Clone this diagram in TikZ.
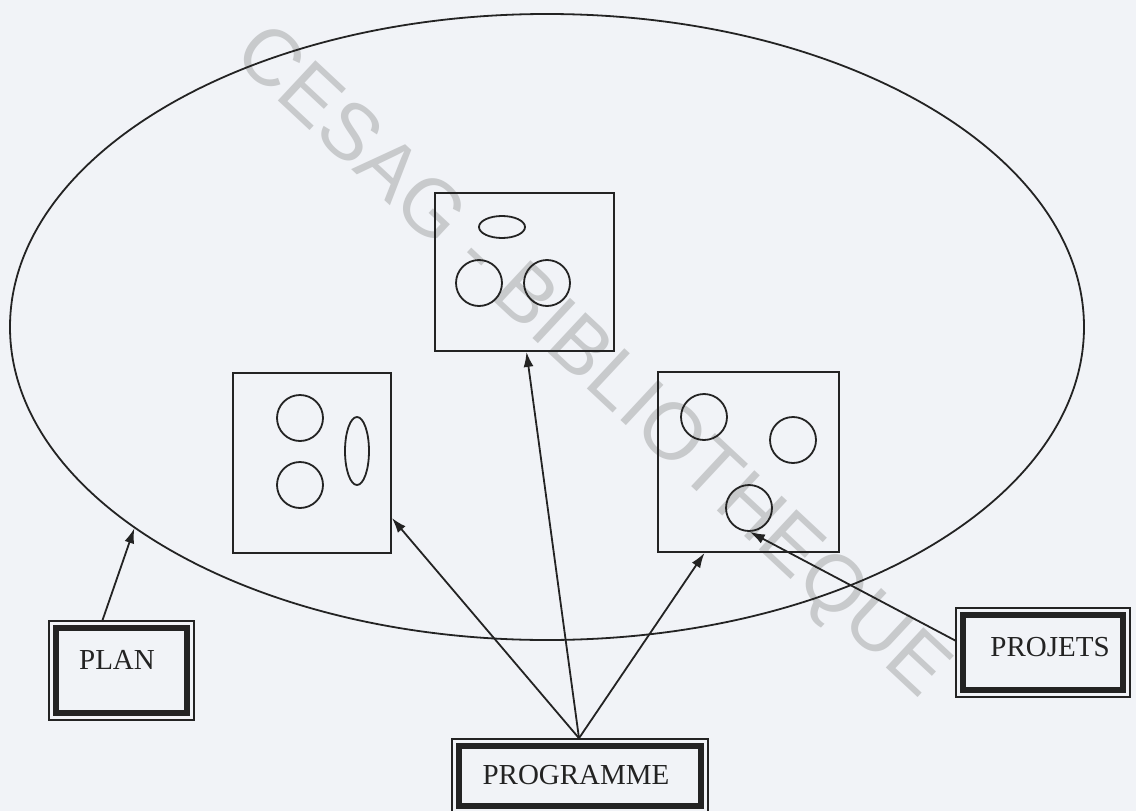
\documentclass[tikz,border=0pt]{standalone}
\usepackage{fontspec}
\setmainfont{Liberation Serif}
\newfontfamily\wmfont{Liberation Sans}
\usetikzlibrary{arrows.meta,shapes.geometric}
\definecolor{paper}{RGB}{241,243,247}
\definecolor{ink}{RGB}{35,35,35}
\definecolor{wmgray}{RGB}{200,202,204}
\begin{document}
\begin{tikzpicture}[x=1pt,y=-1pt,
  outerframe/.style={draw=ink, line width=1.6pt, rectangle, inner sep=0pt},
  smallbox/.style={draw=ink, line width=1.8pt, rectangle, inner sep=0pt},
  blob/.style={draw=ink, circle, minimum size=46pt, inner sep=0pt, line width=1.8pt},
  oval/.style={draw=ink, ellipse, inner sep=0pt, line width=1.8pt},
  lbl/.style={font=\fontsize{29}{34}\selectfont, text=ink, inner sep=0pt},
  wmark/.style={font=\wmfont\fontsize{80}{90}\selectfont, text=wmgray, inner sep=0pt},
  conn/.style={draw=ink, line width=1.8pt, -{Latex[length=15pt,width=10pt]}}]
\useasboundingbox (0,0) rectangle (1136,811);
\fill[paper] (0,0) rectangle (1136,811);

% watermark
\node[wmark, rotate=-43] (wm) at (590,364) {CESAG - BIBLIOTHEQUE};

% big ellipse
\node[oval, minimum width=1074pt, minimum height=626pt] (plane) at (547,327) {};

% top box
\node[smallbox, minimum width=179pt, minimum height=158pt] (tbox) at (524.5,272) {};
\node[oval, minimum width=46pt, minimum height=22pt] (t0) at (502,227) {};
\node[blob] (t1) at (479,283) {};
\node[blob] (t2) at (547,283) {};

% left box
\node[smallbox, minimum width=158pt, minimum height=180pt] (lbox) at (312,463) {};
\node[blob] (l1) at (300,418) {};
\node[blob] (l2) at (300,485) {};
\node[oval, minimum width=24pt, minimum height=68pt] (l3) at (357,451) {};

% right box
\node[smallbox, minimum width=181pt, minimum height=180pt] (rbox) at (748.5,462) {};
\node[blob] (r1) at (704,417) {};
\node[blob] (r2) at (793,440) {};
\node[blob] (r3) at (749,508) {};

% label boxes
\node[outerframe, minimum width=145pt, minimum height=99pt] (planbox) at (121.5,670.5) {};
\node[outerframe, minimum width=256pt, minimum height=74pt] (progbox) at (580,776) {};
\node[outerframe, minimum width=174pt, minimum height=89pt] (projbox) at (1043,652.5) {};
\foreach \n in {planbox,progbox,projbox}
  \draw[ink, line width=5.5pt] ([shift={(8pt,-8pt)}]\n.north west) rectangle ([shift={(-8pt,8pt)}]\n.south east);

\node[lbl] (plantxt) at (117,660) {PLAN};
\node[lbl] (progtxt) at (576,775) {PROGRAMME};
\node[lbl] (projtxt) at (1050,647) {PROJETS};

% connectors
\draw[conn] ([xshift=-19pt]planbox.north) -- (plane.206.9);
\draw[conn] ([xshift=-1pt]progbox.north) -- ([yshift=-55pt]lbox.east);
\draw[conn] ([xshift=-1pt]progbox.north) -- ([xshift=2pt]tbox.south);
\draw[conn] ([xshift=-1pt]progbox.north) -- ([xshift=-44pt]rbox.south);
\draw[conn] ([yshift=12pt]projbox.west) -- (r3.-88);
\end{tikzpicture}
\end{document}
